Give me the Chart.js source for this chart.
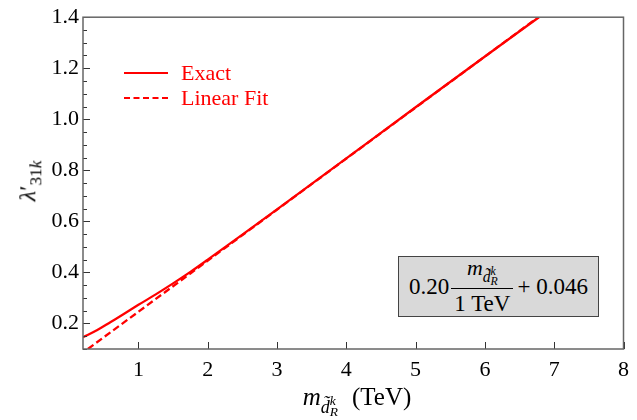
<!DOCTYPE html>
<html>
<head>
<meta charset="utf-8">
<script src="https://cdn.jsdelivr.net/npm/chart.js@4.4.1/dist/chart.umd.min.js"></script>
<style>
  body { margin: 0; background: #fff; }
  #wrap { position: relative; width: 637px; height: 420px; font-family: "Liberation Serif", "DejaVu Serif", serif; color: #000; }
  #c { position: absolute; left: 0; top: 0; }
  .ov { position: absolute; white-space: nowrap; line-height: 1; }
  #legend { left: 124px; top: 60px; color: #ff0000; font-size: 22px; }
  #legend .row { display: flex; align-items: center; height: 25px; }
  #legend svg { width: 44px; height: 6px; margin-right: 13px; }
  #ylab { left: 30px; top: 181px; font-size: 24px; transform: translate(-50%, -50%) rotate(-90deg); }
  #ylab sub { font-size: 0.72em; vertical-align: -0.35em; }
  #xlab { left: 357px; top: 401px; font-size: 25px; transform: translate(-50%, -50%); }
  #xlab .unit { margin-left: 14px; }
  .scr { display: inline-block; font-size: 0.72em; vertical-align: -0.45em; }
  .ss { display: inline-block; font-size: 0.75em; line-height: 0.85; vertical-align: -0.25em; }
  .ss span { display: block; }
  #fitbox { left: 398px; top: 256px; width: 199px; height: 59px; background: #d9d9d9; border: 1.5px solid #444;
            display: flex; align-items: center; justify-content: center; font-size: 23px; }
  .frac { display: inline-flex; flex-direction: column; align-items: center; margin: 0 4px 0 2px; }
  .frac .num { padding: 0 3px 2px; font-size: 0.95em; }
  .frac .den { border-top: 1.2px solid #000; padding: 3px 3px 0; }
</style>
</head>
<body>
<div id="wrap">
  <canvas id="c" width="637" height="420"></canvas>
  <div id="legend" class="ov">
    <div class="row"><svg><line x1="0" y1="3" x2="44" y2="3" stroke="#ff0000" stroke-width="2.2"/></svg>Exact</div>
    <div class="row"><svg><line x1="0" y1="3" x2="44" y2="3" stroke="#ff0000" stroke-width="2.2" stroke-dasharray="6 3.5"/></svg>Linear Fit</div>
  </div>
  <div id="ylab" class="ov"><i>λ</i>′<sub>31<i>k</i></sub></div>
  <div id="xlab" class="ov"><i>m</i><span class="scr"><i>d̃</i><span class="ss"><span><i>k</i></span><span><i>R</i></span></span></span><span class="unit">(TeV)</span></div>
  <div id="fitbox" class="ov">
    0.20<span class="frac"><span class="num"><i>m</i><span class="scr"><i>d̃</i><span class="ss"><span><i>k</i></span><span><i>R</i></span></span></span></span><span class="den">1 TeV</span></span>+ 0.046
  </div>
</div>
<script>
// --- Data ---
const exactX = [0.2, 0.4, 0.6, 0.8, 1.0, 1.25, 1.5, 1.75, 2.0, 2.5, 3.0, 4.0, 5.0, 6.0, 6.78];
const exactY = [0.146, 0.173, 0.206, 0.239, 0.273, 0.314, 0.357, 0.402, 0.450, 0.548, 0.647, 0.847, 1.047, 1.246, 1.4];
const fitX = [0.27, 6.77];
const fitY = [0.1, 1.4];
const xTickLabels = [1, 2, 3, 4, 5, 6, 7, 8];
const yTickLabels = [0.2, 0.4, 0.6, 0.8, 1.0, 1.2, 1.4];
const yMinorStep = 0.05;

const RED = "#ff0000";
const tickFont = { family: "'Liberation Serif', serif", size: 22 };

const toPoints = (xs, ys) => xs.map((x, i) => ({ x, y: ys[i] }));

// inward ticks + frame, drawn with the chart's own scales
const framePlugin = {
  id: "frame",
  afterDatasetsDraw(chart) {
    const { ctx, chartArea: a, scales } = chart;
    const xs = scales.x, ys = scales.y;
    ctx.save();
    ctx.strokeStyle = "#333";
    ctx.lineWidth = 1;
    ctx.beginPath();
    // y minor + major ticks
    for (let v = ys.min; v <= ys.max + 1e-9; v += yMinorStep) {
      const val = Math.round(v * 100) / 100;
      const major = yTickLabels.some((t) => Math.abs(t - val) < 1e-6);
      const py = Math.round(ys.getPixelForValue(val)) + 0.5;
      ctx.moveTo(a.left, py);
      ctx.lineTo(a.left + (major ? 7 : 4), py);
    }
    // x major ticks
    xTickLabels.forEach((t) => {
      const px = Math.round(xs.getPixelForValue(t)) + 0.5;
      ctx.moveTo(px, a.bottom);
      ctx.lineTo(px, a.bottom - 7);
    });
    ctx.stroke();
    ctx.strokeStyle = "#666";
    ctx.lineWidth = 1.5;
    ctx.strokeRect(a.left, a.top, a.right - a.left, a.bottom - a.top);
    ctx.restore();
  },
};

new Chart(document.getElementById("c"), {
  type: "line",
  data: {
    datasets: [
      {
        label: "Exact",
        data: toPoints(exactX, exactY),
        borderColor: RED,
        borderWidth: 2.3,
        pointRadius: 0,
        cubicInterpolationMode: "monotone",
      },
      {
        label: "Linear Fit",
        data: toPoints(fitX, fitY),
        borderColor: RED,
        borderWidth: 2.3,
        borderDash: [7, 3.5],
        pointRadius: 0,
      },
    ],
  },
  options: {
    responsive: false,
    animation: false,
    devicePixelRatio: 1,
    layout: { padding: { top: 15, right: 13, left: 0, bottom: 0 } },
    plugins: { legend: { display: false }, tooltip: { enabled: false } },
    scales: {
      x: {
        type: "linear",
        min: 0.2,
        max: 8,
        grid: { display: false, drawTicks: false },
        border: { display: false },
        afterBuildTicks: (s) => { s.ticks = xTickLabels.map((v) => ({ value: v })); },
        afterFit: (s) => { s.height = 71; },
        ticks: { color: "#000", font: tickFont, padding: 8, maxRotation: 0, callback: (v) => String(v) },
      },
      y: {
        type: "linear",
        min: 0.1,
        max: 1.4,
        grid: { display: false, drawTicks: false },
        border: { display: false },
        afterBuildTicks: (s) => { s.ticks = yTickLabels.map((v) => ({ value: v })); },
        afterFit: (s) => { s.width = 83; },
        ticks: { color: "#000", font: tickFont, padding: 4, callback: (v) => Number(v).toFixed(1) },
      },
    },
  },
  plugins: [framePlugin],
});
</script>
</body>
</html>
